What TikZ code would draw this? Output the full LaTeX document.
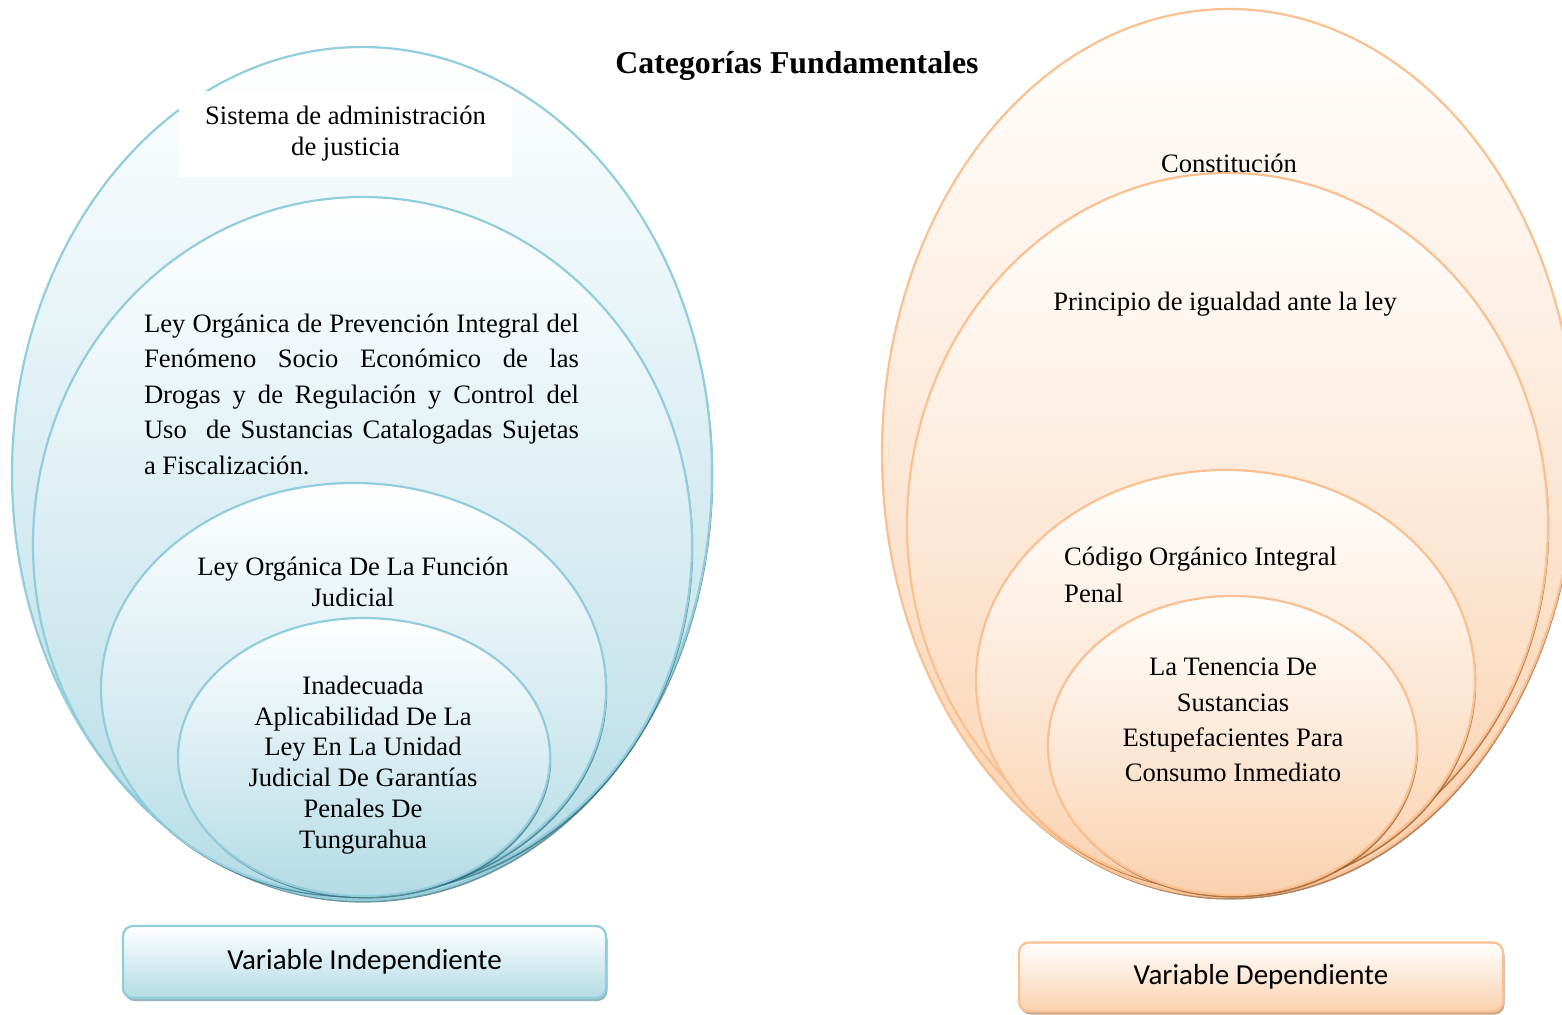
\documentclass[tikz,border=0pt]{standalone}
\usepackage{fontspec}
\setmainfont{Liberation Serif}
\newfontfamily\calibfont{Carlito}
\usetikzlibrary{shadows}
\definecolor{bstroke}{HTML}{92CDDC}
\definecolor{bfill}{HTML}{B3DBE6}
\definecolor{bshadow}{HTML}{2A6878}
\definecolor{ostroke}{HTML}{FAC090}
\definecolor{ofill}{HTML}{FAD1AE}
\definecolor{oshadow}{HTML}{8E5220}
\tikzset{
  blueshape/.style={draw=bstroke, line width=2.2pt, top color=white, bottom color=bfill,
    drop shadow={shadow xshift=1.2pt, shadow yshift=-2.6pt, fill=bshadow, opacity=0.7}},
  orangeshape/.style={draw=ostroke, line width=2.2pt, top color=white, bottom color=ofill,
    drop shadow={shadow xshift=1.2pt, shadow yshift=-2.6pt, fill=oshadow, opacity=0.7}},
  txt/.style={font=\fontsize{26.6}{31}\selectfont, align=center, inner sep=0pt, text=black},
  varbox/.style={line width=2.2pt, rounded corners=10pt, minimum height=72pt,
    font=\calibfont\fontsize{29}{34}\selectfont, inner sep=0pt},
}
\begin{document}
\begin{tikzpicture}[x=1pt,y=-1pt]
\useasboundingbox (0,0) rectangle (1562,1014);

% ---------- left group ----------
\path[blueshape] (362,473.5) ellipse [x radius=350, y radius=426.5];
\node[txt, fill=white, minimum width=333pt, minimum height=86pt] (sist) at (345.5,134)
  {Sistema de administración\\de justicia};
\path[blueshape] (362.5,545) ellipse [x radius=329.5, y radius=348];
\path[blueshape] (353.5,689) ellipse [x radius=252.5, y radius=206];
\path[blueshape] (364,757) ellipse [x radius=186, y radius=139];

\node[txt, align=justify, text width=435pt, font=\fontsize{26.6}{35.5}\selectfont] (loprev) at (361.5,394)
  {\spaceskip=0pt\xspaceskip=0pt%
   \makebox[435pt][s]{Ley Orgánica de Prevención Integral del}\\
   \makebox[435pt][s]{Fenómeno Socio Económico de las}\\
   \makebox[435pt][s]{Drogas y de Regulación y Control del}\\
   \makebox[435pt][s]{Uso \ de Sustancias Catalogadas Sujetas}\\
   \makebox[435pt][l]{a Fiscalización.}};
\node[txt] (lofj) at (353,582) {Ley Orgánica De La Función\\Judicial};
\node[txt, font=\fontsize{26.6}{30.8}\selectfont] (inad) at (363,765)
  {Inadecuada\\Aplicabilidad De La\\Ley En La Unidad\\Judicial De Garantías\\Penales De\\Tungurahua};

% ---------- right group ----------
\path[orangeshape] (1229,453) ellipse [x radius=347, y radius=444];
\path[orangeshape] (1227.5,525) ellipse [x radius=320.5, y radius=352];
\path[orangeshape] (1225.5,680) ellipse [x radius=249.5, y radius=210];
\path[orangeshape] (1232.5,745.5) ellipse [x radius=184.5, y radius=149.5];

\node[txt] (const) at (1229,163) {Constitución};
\node[txt] (princ) at (1225,304) {Principio de igualdad ante la ley};
\node[txt, anchor=west, align=left, font=\fontsize{26.6}{37}\selectfont] (coip) at (1064,575)
  {Código Orgánico Integral\\Penal};
\node[txt, font=\fontsize{26.6}{35.3}\selectfont] (tenen) at (1233,720)
  {La Tenencia De\\Sustancias\\Estupefacientes Para\\Consumo Inmediato};

% ---------- title ----------
\node[txt, font=\fontsize{31.8}{36}\selectfont\bfseries] (title) at (797,66) {Categorías Fundamentales};

% ---------- variable boxes ----------
\node[varbox, draw=bstroke, top color=white, bottom color=bfill, minimum width=483pt,
  drop shadow={shadow xshift=1.5pt, shadow yshift=-3pt, fill=bshadow, opacity=0.5}] (vind) at (364.5,962)
  {Variable Independiente};
\node[varbox, draw=ostroke, top color=white, bottom color=ofill, minimum width=484pt, minimum height=69pt,
  drop shadow={shadow xshift=1.5pt, shadow yshift=-3pt, fill=oshadow, opacity=0.5}] (vdep) at (1261,977)
  {Variable Dependiente};
\end{tikzpicture}
\end{document}
